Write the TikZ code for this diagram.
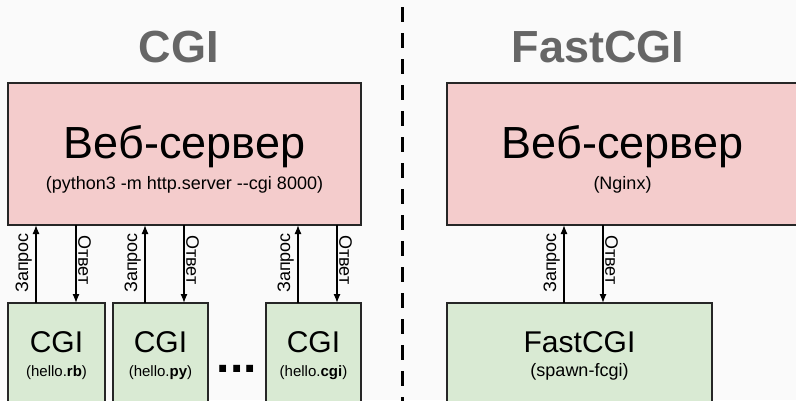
\documentclass[tikz,border=0pt]{standalone}
\usepackage{fontspec}
\setmainfont{Liberation Sans}
\usetikzlibrary{calc, positioning, arrows.meta}
\definecolor{bgcol}{HTML}{FAFAFA}
\definecolor{webcol}{HTML}{F4CCCC}
\definecolor{cgicol}{HTML}{D9EAD3}
\definecolor{titlecol}{HTML}{666666}
\begin{document}
\begin{tikzpicture}[x=1pt,y=-1pt,
 box/.style={draw=black!85,line width=1.6pt,outer sep=0pt,inner sep=0pt},
 webbox/.style={box,fill=webcol,minimum height=142},
 cgibox/.style={box,fill=cgicol,minimum height=107},
 conn/.style={line width=1.3pt,-{Latex[length=9pt,width=7pt]}},
 reqtext/.style={rotate=90,anchor=south east,inner sep=0pt,font=\fontsize{18}{18}\selectfont},
 anstext/.style={rotate=-90,anchor=south west,inner sep=0pt,font=\fontsize{18}{18}\selectfont}]
 \clip (0,0) rectangle (796,400);
 \fill[bgcol] (0,0) rectangle (796,400);

 % titles and divider
 \node[inner sep=0pt,text=titlecol,font=\fontsize{45}{45}\selectfont\bfseries] (tcgi) at (179,47) {CGI};
 \node[inner sep=0pt,text=titlecol,font=\fontsize{45}{45}\selectfont\bfseries] (tfcgi) at (598,47) {FastCGI};
 \draw[line width=3pt,dash pattern=on 15pt off 11pt] (402,7) -- (402,410);

 % web servers
 \node[webbox,minimum width=353] (webL) at (184.5,154) {};
 \node[anchor=base,inner sep=0pt,font=\fontsize{45}{45}\selectfont] (webLt) at ([yshift=-4]webL.center) {Веб-сервер};
 \node[anchor=base,inner sep=0pt,font=\fontsize{18}{18}\selectfont] (webLs) at ([yshift=-35]webL.center) {(python3 -m http.server -\kern0pt-cgi 8000)};
 \node[webbox,minimum width=351] (webR) at (622.5,154) {};
 \node[anchor=base,inner sep=0pt,font=\fontsize{45}{45}\selectfont] (webRt) at ([yshift=-4]webR.center) {Веб-сервер};
 \node[anchor=base,inner sep=0pt,font=\fontsize{18}{18}\selectfont] (webRs) at ([yshift=-35]webR.center) {(Nginx)};

 % cgi programs
 \node[cgibox,minimum width=97,anchor=north west] (cgiA) at ([yshift=-78]webL.south west) {};
 \node[cgibox,minimum width=95,right=8 of cgiA] (cgiB) {};
 \node[cgibox,minimum width=95,right=58 of cgiB] (cgiC) {};
 \node[cgibox,minimum width=265,anchor=north west] (fcgi) at ([yshift=-78]webR.south west) {};
 \foreach \b/\t in {cgiA/rb, cgiB/py, cgiC/cgi}{
  \node[anchor=base,inner sep=0pt,font=\fontsize{30}{30}\selectfont] (\b t) at ([yshift=4.5]\b.center) {CGI};
  \node[anchor=base,inner sep=0pt,font=\fontsize{15}{15}\selectfont] (\b s) at ([yshift=-19.5]\b.center) {(hello.\textbf{\t})};
 }
 \node[anchor=base,inner sep=0pt,font=\fontsize{30}{30}\selectfont] (fcgit) at ([yshift=4.5]fcgi.center) {FastCGI};
 \node[anchor=base,inner sep=0pt,font=\fontsize{18}{18}\selectfont] (fcgis) at ([yshift=-19.5]fcgi.center) {(spawn-fcgi)};
 \node[anchor=base,inner sep=0pt,font=\fontsize{48}{48}\selectfont\bfseries] (dots) at ($(cgiB.center)!0.5!(cgiC.center)+(0,15.5)$) {...};

 % requests and answers
 \foreach \b/\w/\l/\r in {cgiA/webL/-20.5/19.5, cgiB/webL/-15.5/23.5, cgiC/webL/-15.5/23.5, fcgi/webR/-15.5/23.5}{
  \draw[conn] ([xshift=\l]\b.north) -- ([xshift=\l]\b.north |- \w.south) coordinate (\b q);
  \draw[conn] ([xshift=\r]\b.north |- \w.south) coordinate (\b a) -- ([xshift=\r]\b.north);
  \node[reqtext] (\b qt) at ([shift={(-4pt,-8pt)}]\b q) {Запрос};
  \node[anstext] (\b at) at ([shift={(2pt,-10pt)}]\b a) {Ответ};
 }
\end{tikzpicture}
\end{document}
